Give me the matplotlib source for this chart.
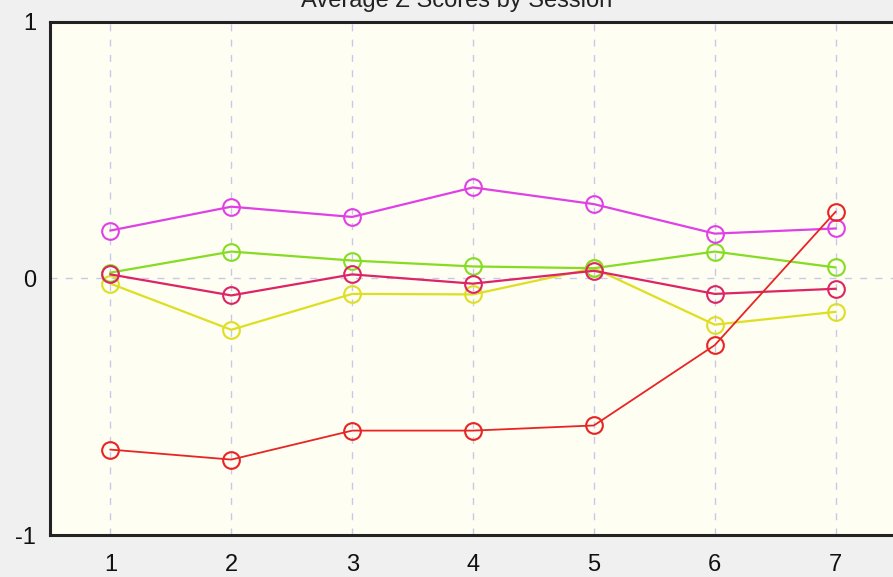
import matplotlib
matplotlib.use("Agg")
import matplotlib.pyplot as plt

plt.rcParams["font.family"] = ["Liberation Sans", "DejaVu Sans"]

sessions = [1, 2, 3, 4, 5, 6, 7]
yellow_scores = [-0.02, -0.20, -0.06, -0.062, 0.04, -0.18, -0.13]
green_scores = [0.023, 0.105, 0.07, 0.047, 0.04, 0.105, 0.043]
crimson_scores = [0.016, -0.066, 0.016, -0.02, 0.03, -0.06, -0.04]
magenta_scores = [0.187, 0.28, 0.24, 0.355, 0.29, 0.175, 0.195]
red_scores = [-0.667, -0.706, -0.593, -0.593, -0.573, -0.26, 0.26]

series = [
    (yellow_scores, "#DEDE22", 1.6),
    (green_scores, "#86DC22", 1.6),
    (crimson_scores, "#DC2466", 1.6),
    (magenta_scores, "#E040E6", 1.6),
    (red_scores, "#E82424", 1.3),
]

fig = plt.figure(figsize=(8.93, 5.77), dpi=100, facecolor="#F0F0F0")
ax = fig.add_axes([50 / 893, 42 / 577, 846 / 893, 513 / 577])
ax.set_facecolor("#FEFEF2")

for vals, color, lw in series:
    ax.plot(sessions, vals, color=color, linewidth=lw, marker="o",
            markersize=12, markerfacecolor="none", markeredgecolor=color,
            markeredgewidth=1.5, zorder=3)

ax.set_xlim(0.5, 7.5)
ax.set_ylim(-1, 1)
ax.set_xticks(sessions)
ax.set_yticks([-1, 0, 1])
ax.set_yticklabels(["-1", "0", "1"])
ax.tick_params(axis="both", length=0, labelsize=17, colors="#111111")
ax.tick_params(axis="x", pad=14)
ax.tick_params(axis="y", pad=10)

ax.grid(True, color="#C8C8EC", linestyle=(0, (5, 6)), linewidth=1.0, zorder=1)
ax.set_axisbelow(True)

for side in ("left", "top", "bottom"):
    ax.spines[side].set_linewidth(2.2)
    ax.spines[side].set_color("#222222")
ax.spines["right"].set_visible(False)

fig.text(457 / 893, 1 - 7 / 577, "Average Z Scores by Session",
         ha="center", va="baseline", fontsize=17, color="#222222")

fig.savefig("out.png", dpi=100, facecolor=fig.get_facecolor())
